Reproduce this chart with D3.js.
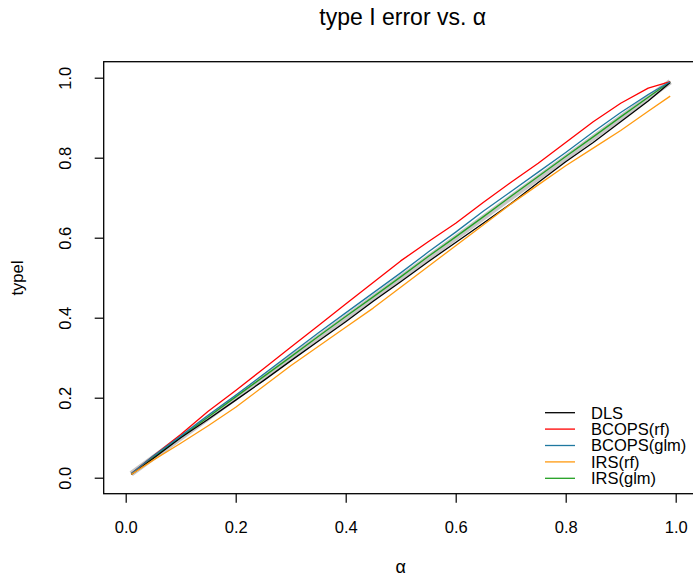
<!DOCTYPE html>
<html><head><meta charset="utf-8">
<script src="https://cdn.jsdelivr.net/npm/d3@7"></script>
<style>
html,body{margin:0;padding:0;background:#fff;}
svg text{font-family:"Liberation Sans",Arial,Helvetica,sans-serif;fill:#000;}
</style></head>
<body>
<script>
const alpha = [0.01,0.05,0.10,0.15,0.20,0.25,0.30,0.35,0.40,0.45,0.50,0.55,0.60,0.65,0.70,0.75,0.80,0.85,0.90,0.95,0.99];
const dls      = [0.008,0.048,0.100,0.146,0.194,0.242,0.292,0.341,0.390,0.441,0.490,0.540,0.588,0.636,0.685,0.738,0.790,0.838,0.890,0.942,0.988];
const bcopsRf  = [0.010,0.054,0.108,0.166,0.218,0.272,0.326,0.380,0.434,0.488,0.542,0.590,0.636,0.688,0.738,0.786,0.838,0.890,0.936,0.974,0.990];
const bcopsGlm = [0.010,0.054,0.104,0.156,0.206,0.258,0.310,0.362,0.412,0.462,0.512,0.564,0.614,0.666,0.715,0.764,0.813,0.864,0.913,0.958,0.990];
const irsRf    = [0.008,0.044,0.086,0.130,0.176,0.228,0.280,0.328,0.376,0.424,0.476,0.528,0.580,0.632,0.684,0.732,0.780,0.824,0.868,0.916,0.954];
const irsGlm   = [0.010,0.051,0.101,0.152,0.202,0.252,0.302,0.353,0.403,0.452,0.502,0.553,0.602,0.652,0.703,0.753,0.803,0.852,0.902,0.951,0.990];
const reference = alpha; // nominal level line (type I error = alpha)
const seriesNames = ["DLS","BCOPS(rf)","BCOPS(glm)","IRS(rf)","IRS(glm)"];
const seriesColors = ["#000000","#ff0000","#1f78a0","#ff9a10","#22a022"];
const xTicks = [0,0.2,0.4,0.6,0.8,1.0];
const yTicks = [0,0.2,0.4,0.6,0.8,1.0];
const titleText = "type I error vs. α";
const xLabel = "α";
const yLabel = "typeI";

const W = 693, H = 576;
const svg = d3.select("body").append("svg").attr("width",W).attr("height",H);

const x = d3.scaleLinear().domain([-0.04,1.04]).range([103.7,697.7]);
const y = d3.scaleLinear().domain([-0.04,1.04]).range([493.7,61.7]);

const FS = 16.5;
const line = d3.line().x(d=>x(d[0])).y(d=>y(d[1]));

// reference band
svg.append("path").datum(alpha.map((a,i)=>[a,reference[i]]))
  .attr("d",line).attr("fill","none").attr("stroke","#c6c6c6").attr("stroke-width",5.5);

const allSeries = [dls,bcopsRf,bcopsGlm,irsRf,irsGlm];
const drawOrder = [4,0,1,2,3];
drawOrder.forEach(k=>{
  svg.append("path").datum(alpha.map((a,i)=>[a,allSeries[k][i]]))
    .attr("d",line).attr("fill","none").attr("stroke",seriesColors[k])
    .attr("stroke-width",1.3).attr("stroke-linejoin","round");
});

// box
svg.append("rect").attr("x",x.range()[0]).attr("y",y.range()[1])
  .attr("width",x.range()[1]-x.range()[0]).attr("height",y.range()[0]-y.range()[1])
  .attr("fill","none").attr("stroke","#000").attr("stroke-width",1.3);

// x axis
const xAxis = d3.axisBottom(x).tickValues(xTicks).tickSize(9).tickSizeOuter(0).tickFormat(d3.format(".1f"));
const gx = svg.append("g").attr("transform",`translate(0,${y.range()[0]})`).call(xAxis);
gx.select(".domain").remove();
gx.selectAll(".tick line").attr("stroke","#000").attr("stroke-width",1.2);
gx.selectAll(".tick text").attr("y",null).attr("dy",null)
  .attr("transform","translate(0,39)").style("font-size",FS+"px")
  .style("font-family","'Liberation Sans',Arial,sans-serif").attr("fill","#000");

// y axis
const yAxis = d3.axisLeft(y).tickValues(yTicks).tickSize(9).tickSizeOuter(0).tickFormat(d3.format(".1f"));
const gy = svg.append("g").attr("transform",`translate(${x.range()[0]},0)`).call(yAxis);
gy.select(".domain").remove();
gy.selectAll(".tick line").attr("stroke","#000").attr("stroke-width",1.2);
gy.selectAll(".tick text").attr("x",null).attr("dy",null).attr("text-anchor","middle")
  .attr("transform","translate(-32.5,0) rotate(-90)").style("font-size",FS+"px")
  .style("font-family","'Liberation Sans',Arial,sans-serif").attr("fill","#000");

// titles
const cx = (x.range()[0]+x.range()[1])/2;
const cy = (y.range()[0]+y.range()[1])/2;
svg.append("text").attr("x",cx+2).attr("y",25).attr("text-anchor","middle")
  .style("font-size","23px").text(titleText);
svg.append("text").attr("x",cx).attr("y",573).attr("text-anchor","middle")
  .style("font-size","18px").text(xLabel);
svg.append("text").attr("transform",`translate(23,${cy}) rotate(-90)`).attr("text-anchor","middle")
  .style("font-size",FS+"px").text(yLabel);

// legend
const lg = svg.append("g");
seriesNames.forEach((n,i)=>{
  const yy = 412.7 + i*16.4;
  lg.append("line").attr("x1",545).attr("x2",575).attr("y1",yy).attr("y2",yy)
    .attr("stroke",seriesColors[i]).attr("stroke-width",1.3);
  lg.append("text").attr("x",591).attr("y",yy).attr("dy","0.36em")
    .style("font-size",FS+"px").text(n);
});
</script>
</body></html>
